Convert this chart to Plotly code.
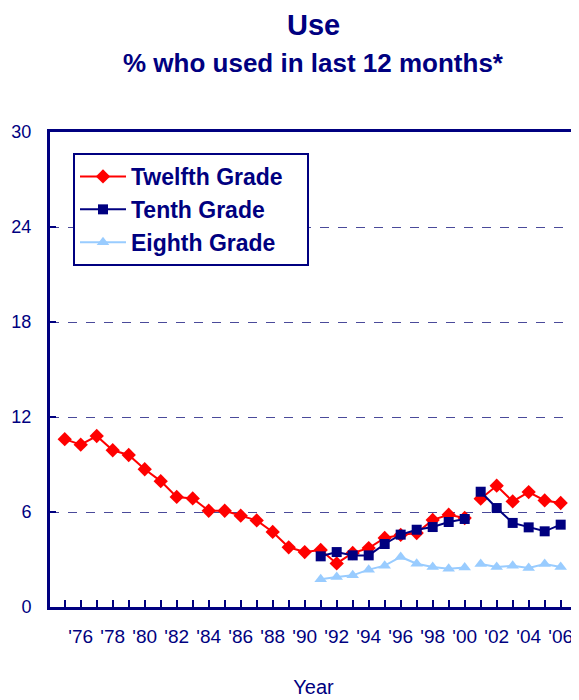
import plotly.graph_objects as go

years_a = list(range(1975, 2001))
years_b = list(range(2001, 2007))

twelfth_a = [10.6, 10.25, 10.8, 9.9, 9.6, 8.7, 7.95, 6.95, 6.86, 6.08, 6.08, 5.77, 5.47, 4.74, 3.77,
             3.47, 3.6, 2.75, 3.41, 3.72, 4.36, 4.55, 4.67, 5.5, 5.83, 5.62]
twelfth_b = [6.84, 7.66, 6.67, 7.26, 6.73, 6.57]

tenth_years_a = list(range(1991, 2001))
tenth_a = [3.2, 3.47, 3.26, 3.26, 3.98, 4.57, 4.88, 5.05, 5.37, 5.56]
tenth_b = [7.28, 6.25, 5.31, 5.03, 4.78, 5.2]

eighth_years_a = list(range(1991, 2001))
eighth_a = [1.75, 1.9, 2.0, 2.36, 2.61, 3.16, 2.73, 2.53, 2.42, 2.5]
eighth_b = [2.72, 2.53, 2.61, 2.46, 2.72, 2.53]

tick_years = list(range(1975, 2007))
tick_text = [("'" + str(y)[2:]) if y % 2 == 0 else "" for y in tick_years]
y_ticks = [0, 6, 12, 18, 24, 30]

NAVY = "#000080"
RED = "#FF0000"
LIGHT = "#99CCFF"
FONT = "Liberation Sans, Arial, sans-serif"

# page offset caused by the default body margin
OFF = 8
W, H = 579 - OFF, 700 - OFF
ML, MT = 50 - OFF, 132 - OFF
MR = W - (577 - OFF)
MB = H - (607 - OFF)
plot_h = H - MT - MB
plot_w = W - ML - MR


def py(ypix):
    return (H - MB - (ypix - OFF)) / plot_h


fig = go.Figure()

series = [
    ("Twelfth Grade", years_a, twelfth_a, years_b, twelfth_b, RED, "diamond", 11),
    ("Tenth Grade", tenth_years_a, tenth_a, years_b, tenth_b, NAVY, "square", 10),
    ("Eighth Grade", eighth_years_a, eighth_a, years_b, eighth_b, LIGHT, "triangle-up", 11),
]
pad = "\u00a0" * 3
for name, xa, ya, xb, yb, col, sym, sz in series:
    for i, (xs, ys) in enumerate([(xa, ya), (xb, yb)]):
        fig.add_trace(go.Scatter(
            x=xs, y=ys, mode="lines+markers", name="<b>" + name + "</b>" + pad,
            legendgroup=name, showlegend=(i == 0),
            line=dict(color=col, width=2),
            marker=dict(symbol=sym, size=sz, color=col),
        ))

fig.update_layout(
    width=W, height=H,
    margin=dict(l=ML, r=MR, t=MT, b=MB, autoexpand=False),
    paper_bgcolor="white", plot_bgcolor="white",
    font=dict(family=FONT, color=NAVY, size=18),
    showlegend=True,
    legend=dict(
        x=(73 - 50) / plot_w, y=py(153), xanchor="left", yanchor="top",
        bgcolor="white", bordercolor=NAVY, borderwidth=2,
        font=dict(family=FONT, size=23, color=NAVY),
        itemwidth=46, tracegroupgap=0,
    ),
    annotations=[
        dict(text="<b>Use</b>", x=0.5, xref="paper", y=py(OFF), yref="paper",
             yanchor="top", borderpad=0, showarrow=False,
             font=dict(size=29, color=NAVY)),
        dict(text="<b>% who used in last 12 months*</b>", x=0.5, xref="paper",
             y=py(63), yref="paper", yanchor="middle",
             showarrow=False, font=dict(size=26, color=NAVY)),
    ],
)

fig.update_xaxes(
    range=[1974.08, 2007.02], tickvals=tick_years, ticktext=tick_text,
    ticks="inside", ticklen=7, tickwidth=2, tickcolor=NAVY,
    showline=True, linecolor=NAVY, linewidth=3, mirror=True,
    showgrid=False, zeroline=False, ticklabelstandoff=10, automargin=False,
    tickfont=dict(size=19, color=NAVY),
    title=dict(text="Year", font=dict(size=20, color=NAVY), standoff=35),
)
fig.update_yaxes(
    range=[0, 30], tickvals=y_ticks,
    ticks="inside", ticklen=6, tickwidth=2, tickcolor=NAVY,
    showline=True, linecolor=NAVY, linewidth=3, mirror=True,
    showgrid=True, gridcolor="#4a4a9a", griddash="dash", gridwidth=1,
    zeroline=False, ticklabelstandoff=12, automargin=False,
    tickfont=dict(size=18, color=NAVY),
)

fig.write_html("out.html")
